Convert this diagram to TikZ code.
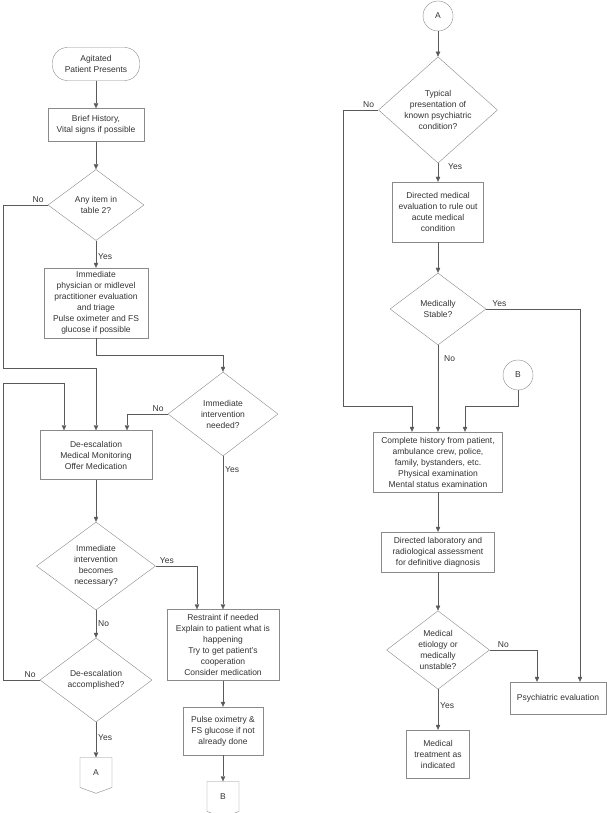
\documentclass[tikz,border=0pt]{standalone}
\usepackage{fontspec}
\setmainfont{Liberation Sans}
\usetikzlibrary{arrows.meta,shapes.geometric,shapes.symbols}
\definecolor{linegray}{HTML}{5A5A5A}
\definecolor{boxgray}{HTML}{8A8A8A}
\definecolor{textgray}{HTML}{333333}
\tikzset{
  base/.style={draw=boxgray, text=textgray, align=center, inner sep=0pt,
    font=\fontsize{8.5}{11}\selectfont},
  box/.style={base, rectangle},
  term/.style={base, rectangle, rounded corners=15pt},
  decision/.style={base, diamond},
  conn/.style={base, circle, minimum size=30pt},
  offpage/.style={base, signal, signal to=south, signal pointer angle=140,
    minimum width=32pt, minimum height=31pt},
  arr/.style={draw=linegray, -{Triangle[length=5pt,width=4.5pt]}},
  lbl/.style={text=textgray, inner sep=2pt, font=\fontsize{8.5}{11}\selectfont}
}
\begin{document}
\begin{tikzpicture}[x=1pt, y=-1pt]
  \useasboundingbox (0,0) rectangle (606,813);

  % left column
  \node[term, minimum width=87pt, minimum height=33pt] (start) at (96,64) {Agitated\\Patient Presents};
  \node[box, minimum width=96pt, minimum height=33pt] (hist) at (96,125) {Brief History,\\Vital signs if possible};
  \node[decision, minimum width=96pt, minimum height=71pt] (tbl) at (96,205) {Any item in\\table 2?};
  \node[box, minimum width=104pt, minimum height=70pt] (imm) at (96,303) {Immediate\\physician or midlevel\\practitioner evaluation\\and triage\\Pulse oximeter and FS\\glucose if possible};
  \node[decision, minimum width=110pt, minimum height=84pt] (need) at (223,414) {Immediate\\intervention\\needed?};
  \node[box, minimum width=112pt, minimum height=49pt] (deesc) at (96,455) {De-escalation\\Medical Monitoring\\Offer Medication};
  \node[decision, minimum width=119pt, minimum height=88pt] (nec) at (96,566) {Immediate\\intervention\\becomes\\necessary?};
  \node[decision, minimum width=112pt, minimum height=84pt] (acc) at (96,680) {De-escalation\\accomplished?};
  \node[offpage] (offA) at (96,772.5) {A};
  \node[box, minimum width=112pt, minimum height=71pt] (restr) at (223,645) {Restraint if needed\\Explain to patient what is\\happening\\Try to get patient's\\cooperation\\Consider medication};
  \node[box, minimum width=80pt, minimum height=48pt] (pulse) at (223,731) {Pulse oximetry \&\\FS glucose if not\\already done};
  \node[offpage] (offB) at (223,796.5) {B};

  % right column
  \node[conn] (cA) at (438,16) {A};
  \node[decision, minimum width=119pt, minimum height=89pt] (typ) at (438,110) {Typical\\presentation of\\known psychiatric\\condition?};
  \node[box, minimum width=91pt, minimum height=60pt] (dirmed) at (438,212) {Directed medical\\evaluation to rule out\\acute medical\\condition};
  \node[decision, minimum width=96pt, minimum height=72pt] (stab) at (438,309) {Medically\\Stable?};
  \node[conn] (cB) at (518,375) {B};
  \node[box, minimum width=129pt, minimum height=60pt] (hist2) at (438,462) {Complete history from patient,\\ambulance crew, police,\\family, bystanders, etc.\\Physical examination\\Mental status examination};
  \node[box, minimum width=113pt, minimum height=40pt] (lab) at (438,552) {Directed laboratory and\\radiological assessment\\for definitive diagnosis};
  \node[decision, minimum width=103pt, minimum height=77pt] (etio) at (438,650) {Medical\\etiology or\\medically\\unstable?};
  \node[box, minimum width=63pt, minimum height=48pt] (treat) at (438,754) {Medical\\treatment as\\indicated};
  \node[box, minimum width=96pt, minimum height=32pt] (psych) at (558,698) {Psychiatric evaluation};

  % connectors, left
  \draw[arr] (start) -- (hist);
  \draw[arr] (hist) -- (tbl);
  \draw[arr] (tbl) -- node[lbl, right, pos=0.6] {Yes} (imm);
  \draw[arr] (tbl.west) node[lbl, above left, xshift=-2pt] {No} -- (3,205) -- (3,368) -| (deesc.north);
  \draw[arr] (imm.south) -- (96,355) -| (need.north);
  \draw[arr] (need.west) node[lbl, above left, xshift=-2pt] {No} -| ([xshift=31pt]deesc.north);
  \draw[arr] (need.south) -- node[lbl, right, pos=0.09] {Yes} (need.south |- restr.north);
  \draw[arr] (deesc) -- (nec);
  \draw[arr] (nec.east) node[lbl, above right, xshift=2pt] {Yes} -| ([xshift=-26pt]restr.north);
  \draw[arr] (nec) -- node[lbl, right, pos=0.5] {No} (acc);
  \draw[arr] (acc.west) node[lbl, above left, xshift=-2pt] {No} -- (3,680) -- (3,383) -| ([xshift=-32pt]deesc.north);
  \draw[arr] (acc.south) -- node[lbl, right, pos=0.45] {Yes} (offA.north);
  \draw[arr] (restr) -- (pulse);
  \draw[arr] (pulse.south) -- (offB.north);

  % connectors, right
  \draw[arr] (cA) -- (typ);
  \draw[arr] (typ) -- node[lbl, right, pos=0.2, xshift=8pt] {Yes} (dirmed);
  \draw[arr] (typ.west) node[lbl, above left, xshift=-2pt] {No} -- (343,110) -- (343,406) -| ([xshift=-26pt]hist2.north);
  \draw[arr] (dirmed) -- (stab);
  \draw[arr] (stab.south) -- node[lbl, right, pos=0.15, xshift=4pt] {No} (hist2.north);
  \draw[arr] (stab.east) node[lbl, above right, xshift=4pt] {Yes} -| ([xshift=22pt]psych.north);
  \draw[arr] (cB.south) -- (518,406) -| ([xshift=27pt]hist2.north);
  \draw[arr] (hist2) -- (lab);
  \draw[arr] (lab) -- (etio);
  \draw[arr] (etio.east) node[lbl, above right, xshift=6pt] {No} -| ([xshift=-21pt]psych.north);
  \draw[arr] (etio) -- node[lbl, right, pos=0.4] {Yes} (treat);
\end{tikzpicture}
\end{document}
